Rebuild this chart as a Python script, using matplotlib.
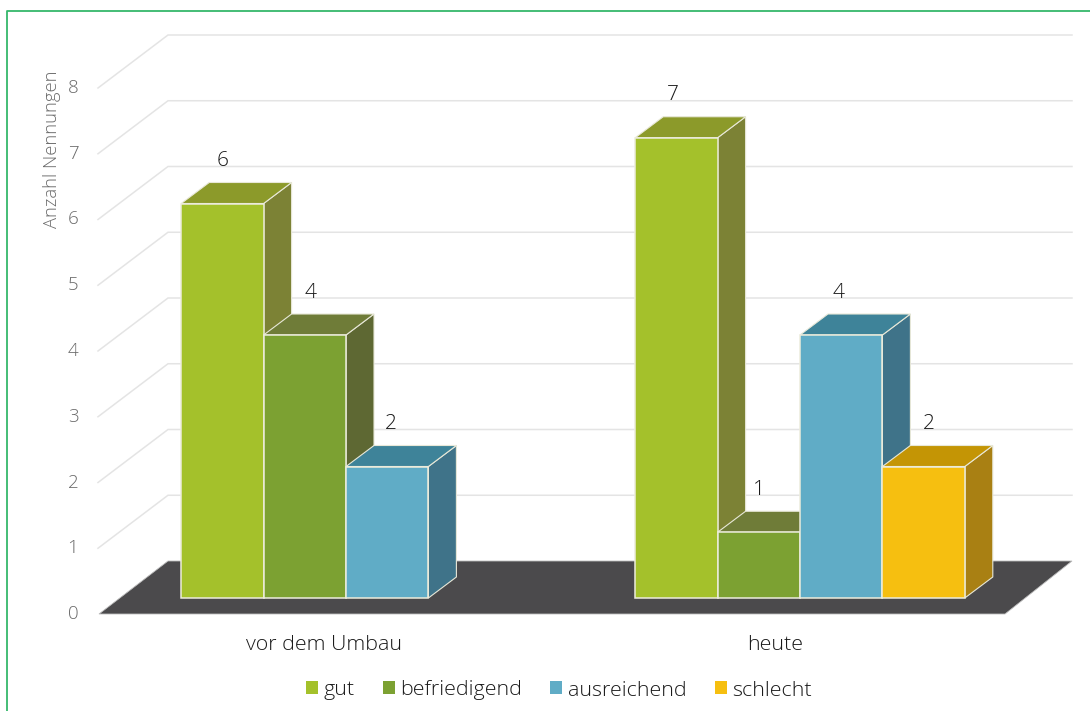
import matplotlib
matplotlib.use('Agg')
import matplotlib.pyplot as plt
from matplotlib.patches import Polygon, Patch
from matplotlib.lines import Line2D

plt.rcParams['font.family'] = ['Open Sans', 'DejaVu Sans']
plt.rcParams['font.weight'] = 'light'

categories = ['vor dem Umbau', 'heute']
series = ['gut', 'befriedigend', 'ausreichend', 'schlecht']
gut = [6, 7]
befriedigend = [4, 1]
ausreichend = [2, 4]
schlecht = [0, 2]
values = [gut, befriedigend, ausreichend, schlecht]
yticks = [0, 1, 2, 3, 4, 5, 6, 7, 8]

front = ['#a4c12b', '#7ca132', '#60acc6', '#f6bf10']
top = ['#8c9a2a', '#6f7c38', '#3e8399', '#c49505']
side = ['#7c8235', '#5e6833', '#3f7389', '#a98013']

W, H = 1090, 711
xpx = 454.0    # pixels per category
ypx = 65.75    # pixels per value
x0 = 346.0     # pixel of category 0
y0 = 598.0     # pixel of value 0

fig = plt.figure(figsize=(W / 100, H / 100), dpi=100)
ax = fig.add_axes([0, 0, 1, 1])
ax.set_xlim(-x0 / xpx, (W - x0) / xpx)
ax.set_ylim((y0 - H) / ypx, y0 / ypx)
ax.axis('off')

dx = 28 / xpx   # depth of the bars
dy = 21 / ypx
width = 82.4 / xpx


def px(x):
    return (x - x0) / xpx


# back wall lines and value labels
wall_front = 16 / ypx
wall_back = 37 / ypx
for v in yticks[1:]:
    ax.plot([px(98), px(168), px(1072)], [v - wall_front, v + wall_back, v + wall_back],
            color='#e4e4e4', lw=1.1, zorder=1, solid_joinstyle='miter')
    ax.text(px(73), v - wall_front, str(v), ha='center', va='center', fontsize=13.5, color='#6a6a6a')
ax.text(px(73), 0 - wall_front, '0', ha='center', va='center', fontsize=13.5, color='#6a6a6a')

# floor
ax.add_patch(Polygon([(px(99), -wall_front), (px(168), wall_back), (px(1072), wall_back), (px(1005), -wall_front)],
                     closed=True, facecolor='#4b4a4c', edgecolor='#bdbdbd', lw=0.6, zorder=2))

# bars, left to right so every bar hides the side of the one before it
z = 3
for cat in range(len(categories)):
    for s in range(len(series)):
        v = values[s][cat]
        if v == 0:
            continue
        x = cat + (s - 2) * width
        ax.add_patch(Polygon([(x + width, 0), (x + width + dx, dy), (x + width + dx, v + dy), (x + width, v)],
                             closed=True, facecolor=side[s], edgecolor='#e8e8d8', lw=0.8, zorder=z))
        ax.add_patch(Polygon([(x, v), (x + dx, v + dy), (x + width + dx, v + dy), (x + width, v)],
                             closed=True, facecolor=top[s], edgecolor='#e8e8d8', lw=0.8, zorder=z))
        ax.bar(x, v, width, align='edge', color=front[s], edgecolor='#ececdc', lw=1.1, zorder=z + 1)
        z += 2

# value labels
nudge = {(0, 0): 0, (1, 0): 6, (2, 0): 4, (0, 1): -4, (1, 1): 0, (2, 1): -3, (3, 1): 5}
for cat in range(len(categories)):
    for s in range(len(series)):
        v = values[s][cat]
        if v == 0:
            continue
        x = cat + (s - 1.5) * width + nudge[(s, cat)] / xpx
        ax.text(x, v + 42.5 / ypx, str(v), ha='center', va='center', fontsize=15, color='#1a1a1a', zorder=50)

# category labels
ax.text(px(324), (y0 - 645.5) / ypx, categories[0], ha='center', va='center', fontsize=15.4, color='#1a1a1a')
ax.text(px(775), (y0 - 645.5) / ypx, categories[1], ha='center', va='center', fontsize=15.4, color='#1a1a1a')

ax.text(px(52), (y0 - 149.5) / ypx, 'Anzahl Nennungen', rotation=90, ha='center', va='center',
        fontsize=13.2, color='#6a6a6a')

handles = [Patch(facecolor=front[i], edgecolor='none', label=series[i]) for i in range(4)]
ax.legend(handles=handles, ncol=4, loc='center', bbox_to_anchor=(559 / W, 1 - 690.5 / H), frameon=False,
          fontsize=15.4, labelcolor='#1a1a1a', handlelength=0.56, handleheight=0.56, handletextpad=0.28,
          columnspacing=1.3)

# green frame of the chart
fig.add_artist(Line2D([7 / W, 7 / W, 1], [0, 1 - 10.5 / H, 1 - 10.5 / H], color='#35b76b', lw=1.3,
                      transform=fig.transFigure))

fig.savefig('out.png', dpi=100)
